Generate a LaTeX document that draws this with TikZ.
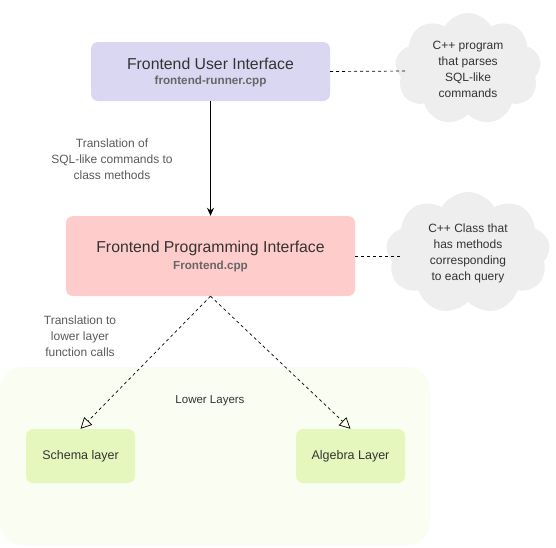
\documentclass[tikz,border=0pt]{standalone}
\usepackage{fontspec}
\setmainfont{Liberation Sans}
\usetikzlibrary{arrows.meta,shapes.symbols}
\definecolor{lav}{HTML}{DAD7F3}
\definecolor{pinkbox}{HTML}{FFCCCC}
\definecolor{cont}{HTML}{FAFDF1}
\definecolor{lime}{HTML}{E6F7BE}
\definecolor{cloudgray}{HTML}{EEEEEE}
\definecolor{txt}{HTML}{333333}
\definecolor{sub}{HTML}{666666}
\definecolor{lbl}{HTML}{5A5A5A}
\tikzset{
  mainbox/.style={rounded corners=7pt, draw=none, inner sep=0pt},
  layerbox/.style={rounded corners=7pt, fill=lime, draw=none, minimum width=109pt, minimum height=54pt, inner sep=0pt, text=txt, font=\fontsize{12.5}{15}\selectfont},
  cloudnote/.style={cloud, cloud puffs=9, cloud puff arc=120, fill=cloudgray, draw=none, align=center, text=txt, font=\fontsize{12}{16}\selectfont, inner sep=0pt},
  lbltext/.style={align=center, text=lbl, font=\fontsize{12}{16}\selectfont},
  dashline/.style={draw=black, dash pattern=on 3pt off 3pt, line width=0.7pt},
}
\begin{document}
\begin{tikzpicture}[x=1pt,y=-1pt]
\useasboundingbox (0,0) rectangle (556,547);
% container
\node[fill=cont, rounded corners=22pt, minimum width=430pt, minimum height=178pt, inner sep=0pt] (lower) at (215,456) {};
\node[text=txt, font=\fontsize{11.5}{14}\selectfont] (lowerlbl) at (210,401) {Lower Layers};
% top box
\node[mainbox, fill=lav, minimum width=239pt, minimum height=59pt] (top) at (210.5,71.5) {};
\node[text=txt, font=\fontsize{15.8}{18}\selectfont] (toptitle) at (210.5,64) {Frontend User Interface};
\node[text=sub, font=\bfseries\fontsize{11.7}{14}\selectfont] (topsub) at (210.5,81.5) {frontend-runner.cpp};
% pink box
\node[mainbox, fill=pinkbox, minimum width=289pt, minimum height=80pt] (mid) at (210.5,256) {};
\node[text=txt, font=\fontsize{15.8}{18}\selectfont] (midtitle) at (210.5,248.5) {Frontend Programming Interface};
\node[text=sub, font=\bfseries\fontsize{11.7}{14}\selectfont] (midsub) at (210.5,266) {Frontend.cpp};
% layer boxes
\node[layerbox] (schema) at (80.5,456) {Schema layer};
\node[layerbox] (algebra) at (350.5,456) {Algebra Layer};
% clouds
\node[cloudnote, minimum width=146pt, minimum height=112pt, aspect=1.3] (cloud1) at (468,69) {C++ program\\that parses\\SQL-like\\commands};
\node[cloudnote, minimum width=164pt, minimum height=122pt, aspect=1.35] (cloud2) at (468,253) {C++ Class that\\has methods\\corresponding\\to each query};
\coordinate (c1in) at (408,71);
\coordinate (c2in) at (403,256);
% labels
\node[lbltext] (lab1) at (112,159.5) {Translation of\\SQL-like commands to\\class methods};
\node[lbltext] (lab2) at (80,336.5) {Translation to\\lower layer\\function calls};
% connectors
\draw[line width=0.9pt, -{Stealth[length=8pt,width=7pt]}] (top.south) -- (mid.north);
\draw[dashline, -{Triangle[open,length=11pt,width=11pt]}] (mid.south) -- (schema.north);
\draw[dashline, -{Triangle[open,length=11pt,width=11pt]}] (mid.south) -- (algebra.north);
\draw[dashline] (top.east) -- (c1in);
\draw[dashline] (mid.east) -- (c2in);
\end{tikzpicture}
\end{document}
